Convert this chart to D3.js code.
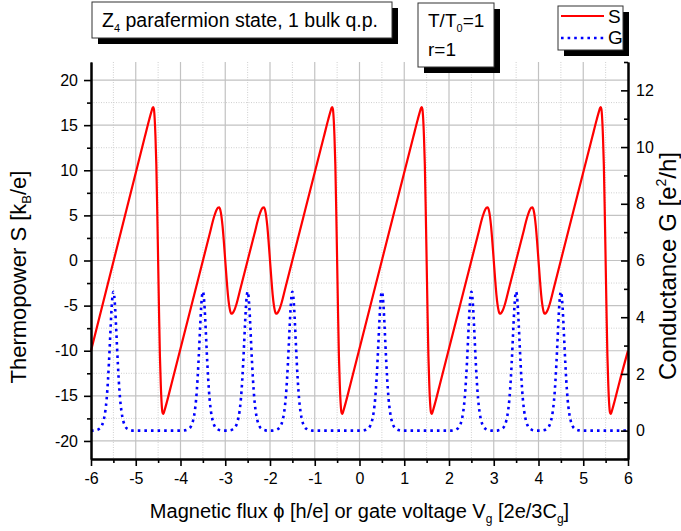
<!DOCTYPE html>
<html>
<head>
<meta charset="utf-8">
<script src="https://cdn.jsdelivr.net/npm/d3@7"></script>
<style>
  html, body { margin: 0; padding: 0; background: #fff; }
  svg { display: block; font-family: "Liberation Sans", Arial, Helvetica, sans-serif; }
</style>
</head>
<body>
<svg id="chart" width="681" height="531"></svg>
<script>
// ---- data -------------------------------------------------------------
// Thermopower S: start / end values and the sawtooth drops between G resonances
const sStart = [-6, -10];
const sEnd = [6, -10];
const dropPositions = [-4.5, -3, -2, -0.5, 1.5, 3, 4, 5.5];
const dropKinds = ["large", "small", "small", "large", "large", "small", "small", "large"];
// shape of a drop, as [offset from drop position, S]
const largeDrop = [
  [-0.30, 13.65], [-0.20, 15.6], [-0.15, 16.5], [-0.125, 16.9], [-0.11, 17.0],
  [-0.095, 16.8], [-0.078, 15.8], [-0.06, 13.8], [-0.04, 10.6], [-0.02, 5.6],
  [0, 0],
  [0.02, -5.6], [0.04, -10.6], [0.06, -13.8], [0.078, -15.8], [0.095, -16.8],
  [0.11, -17.0], [0.125, -16.9], [0.15, -16.5], [0.20, -15.6], [0.30, -13.65]
];
const smallDrop = [
  [-0.35, 2.9], [-0.25, 4.85], [-0.20, 5.55], [-0.16, 5.85], [-0.135, 5.9],
  [-0.11, 5.6], [-0.085, 4.9], [-0.06, 3.8], [-0.03, 2.0],
  [0, 0],
  [0.03, -2.0], [0.06, -3.8], [0.085, -4.9], [0.11, -5.6], [0.135, -5.9],
  [0.16, -5.85], [0.20, -5.55], [0.25, -4.85], [0.35, -2.9]
];

// Conductance G: resonance positions and the peak profile [offset, G]
const gStart = [-6, 0];
const gEnd = [6, 0];
const peakPositions = [-5.5, -3.5, -2.5, -1.5, 0.5, 2.5, 3.5, 4.5];
const peakProfile = [
  [-0.45, 0], [-0.40, 0.01], [-0.33, 0.05], [-0.27, 0.14], [-0.22, 0.35],
  [-0.18, 0.69], [-0.15, 1.12], [-0.12, 1.79], [-0.10, 2.36], [-0.08, 3.01],
  [-0.06, 3.69], [-0.04, 4.31], [-0.02, 4.74], [0, 4.9],
  [0.02, 4.74], [0.04, 4.31], [0.06, 3.69], [0.08, 3.01], [0.10, 2.36],
  [0.12, 1.79], [0.15, 1.12], [0.18, 0.69], [0.22, 0.35], [0.27, 0.14],
  [0.33, 0.05], [0.40, 0.01], [0.45, 0]
];

// ticks
const xMajor = [-6, -5, -4, -3, -2, -1, 0, 1, 2, 3, 4, 5, 6];
const xMinor = [-5.5, -4.5, -3.5, -2.5, -1.5, -0.5, 0.5, 1.5, 2.5, 3.5, 4.5, 5.5];
const sMajor = [-20, -15, -10, -5, 0, 5, 10, 15, 20];
const sMinor = [-17.5, -12.5, -7.5, -2.5, 2.5, 7.5, 12.5, 17.5];
const gMajor = [0, 2, 4, 6, 8, 10, 12];
const gMinor = [-1, 1, 3, 5, 7, 9, 11, 13];

// ---- series assembly ---------------------------------------------------
const sSeries = [sStart];
dropPositions.forEach((d, i) => {
  const shape = dropKinds[i] === "large" ? largeDrop : smallDrop;
  shape.forEach(([dx, v]) => sSeries.push([d + dx, v]));
});
sSeries.push(sEnd);

const gSeries = [gStart];
peakPositions.forEach(c => peakProfile.forEach(([dx, v]) => gSeries.push([c + dx, v])));
gSeries.push(gEnd);

// ---- layout -------------------------------------------------------------
const svg = d3.select("#chart");
const L = 91, R = 628, T = 62, B = 459;

const x = d3.scaleLinear().domain([-6, 6]).range([L, R]);
const yS = d3.scaleLinear().domain([-22, 22]).range([B, T]);
const yG = d3.scaleLinear().domain([-1, 13]).range([B, T]);
const fmt = d => String(d);

// grid
const grid = svg.append("g");
grid.selectAll("line.vmin").data(xMinor).join("line")
  .attr("x1", d => x(d)).attr("x2", d => x(d)).attr("y1", T).attr("y2", B)
  .attr("stroke", "#cfcfcf").attr("stroke-width", 1).attr("stroke-dasharray", "1,1.5");
grid.selectAll("line.hmin").data(sMinor).join("line")
  .attr("y1", d => yS(d)).attr("y2", d => yS(d)).attr("x1", L).attr("x2", R)
  .attr("stroke", "#cfcfcf").attr("stroke-width", 1).attr("stroke-dasharray", "1,1.5");
grid.selectAll("line.vmaj").data(xMajor.slice(1, -1)).join("line")
  .attr("x1", d => x(d)).attr("x2", d => x(d)).attr("y1", T).attr("y2", B)
  .attr("stroke", "#c2c2c2").attr("stroke-width", 1.2);
grid.selectAll("line.hmaj").data(sMajor).join("line")
  .attr("y1", d => yS(d)).attr("y2", d => yS(d)).attr("x1", L).attr("x2", R)
  .attr("stroke", "#c2c2c2").attr("stroke-width", 1.2);

// curves
const lineS = d3.line().x(d => x(d[0])).y(d => yS(d[1])).curve(d3.curveMonotoneX);
const lineG = d3.line().x(d => x(d[0])).y(d => yG(d[1])).curve(d3.curveMonotoneX);

svg.append("path").datum(gSeries).attr("d", lineG)
  .attr("fill", "none").attr("stroke", "#0000ff").attr("stroke-width", 2.6)
  .attr("stroke-dasharray", "2.6,4");
svg.append("path").datum(sSeries).attr("d", lineS)
  .attr("fill", "none").attr("stroke", "#ff0000").attr("stroke-width", 2.2)
  .attr("stroke-linejoin", "round");

// axes
function styleAxis(g) {
  g.select(".domain").attr("stroke", "#000").attr("stroke-width", 2);
  g.selectAll(".tick line").attr("stroke", "#000").attr("stroke-width", 1.6);
  g.selectAll(".tick text").attr("fill", "#000").attr("font-size", 16)
    .attr("font-family", "Liberation Sans, Arial, sans-serif");
}
svg.append("g").attr("transform", `translate(${L},0)`)
  .call(d3.axisLeft(yS).tickValues(sMinor).tickSize(4).tickFormat("").tickSizeOuter(0))
  .call(styleAxis);
svg.append("g").attr("transform", `translate(${L},0)`)
  .call(d3.axisLeft(yS).tickValues(sMajor).tickSize(7).tickPadding(6).tickFormat(fmt).tickSizeOuter(0))
  .call(styleAxis);
svg.append("g").attr("transform", `translate(${R},0)`)
  .call(d3.axisRight(yG).tickValues(gMinor).tickSize(-4).tickFormat("").tickSizeOuter(0))
  .call(styleAxis);
svg.append("g").attr("transform", `translate(${R},0)`)
  .call(d3.axisRight(yG).tickValues(gMajor).tickSize(-7).tickPadding(8).tickFormat(fmt).tickSizeOuter(0))
  .call(styleAxis);
svg.append("g").attr("transform", `translate(0,${B})`)
  .call(d3.axisBottom(x).tickValues(xMinor).tickSize(4).tickFormat("").tickSizeOuter(0))
  .call(styleAxis);
svg.append("g").attr("transform", `translate(0,${B})`)
  .call(d3.axisBottom(x).tickValues(xMajor).tickSize(7).tickPadding(7).tickFormat(fmt).tickSizeOuter(0))
  .call(styleAxis);

// axis titles
const xt = svg.append("text").attr("x", (L + R) / 2).attr("y", 518)
  .attr("text-anchor", "middle").attr("font-size", 20);
xt.append("tspan").text("Magnetic flux \u03d5 [h/e] or gate voltage V");
xt.append("tspan").attr("font-size", 12).attr("dy", 5).text("g");
xt.append("tspan").attr("dy", -5).text(" [2e/3C");
xt.append("tspan").attr("font-size", 12).attr("dy", 5).text("g");
xt.append("tspan").attr("dy", -5).text("]");

const yt = svg.append("text").attr("transform", "translate(26,277) rotate(-90)")
  .attr("text-anchor", "middle").attr("font-size", 22);
yt.append("tspan").text("Thermopower S [k");
yt.append("tspan").attr("font-size", 13).attr("dy", 5).text("B");
yt.append("tspan").attr("dy", -5).text("/e]");

const gt = svg.append("text").attr("transform", "translate(676,266) rotate(-90)")
  .attr("text-anchor", "middle").attr("font-size", 24);
gt.append("tspan").text("Conductance G [e");
gt.append("tspan").attr("font-size", 14).attr("dy", -10).text("2");
gt.append("tspan").attr("dy", 10).text("/h]");

// annotation boxes with drop shadows
function box(x0, y0, w, h) {
  svg.append("rect").attr("x", x0 + 6).attr("y", y0 + 6).attr("width", w).attr("height", h).attr("fill", "#000");
  svg.append("rect").attr("x", x0).attr("y", y0).attr("width", w).attr("height", h)
    .attr("fill", "#fff").attr("stroke", "#333").attr("stroke-width", 1);
}
box(92, 2, 300, 36);
const t1 = svg.append("text").attr("x", 102).attr("y", 27).attr("font-size", 19.5);
t1.append("tspan").text("Z");
t1.append("tspan").attr("font-size", 11).attr("dy", 5).text("4");
t1.append("tspan").attr("dy", -5).text(" parafermion state, 1 bulk q.p.");

box(418, 3, 76, 64);
const t2 = svg.append("text").attr("x", 428).attr("y", 27).attr("font-size", 19);
t2.append("tspan").text("T/T");
t2.append("tspan").attr("font-size", 11).attr("dy", 5).text("0");
t2.append("tspan").attr("dy", -5).text("=1");
svg.append("text").attr("x", 428).attr("y", 56).attr("font-size", 19).text("r=1");

// legend
box(558, 6, 65, 44);
const lg = svg.append("g");
lg.append("line").attr("x1", 561).attr("x2", 604).attr("y1", 16).attr("y2", 16)
  .attr("stroke", "#ff0000").attr("stroke-width", 2.2);
lg.append("line").attr("x1", 561).attr("x2", 604).attr("y1", 38).attr("y2", 38)
  .attr("stroke", "#0000ff").attr("stroke-width", 2.6).attr("stroke-dasharray", "2.6,4");
lg.append("text").attr("x", 608).attr("y", 23).attr("font-size", 19).text("S");
lg.append("text").attr("x", 608).attr("y", 44).attr("font-size", 19).text("G");
</script>
</body>
</html>
